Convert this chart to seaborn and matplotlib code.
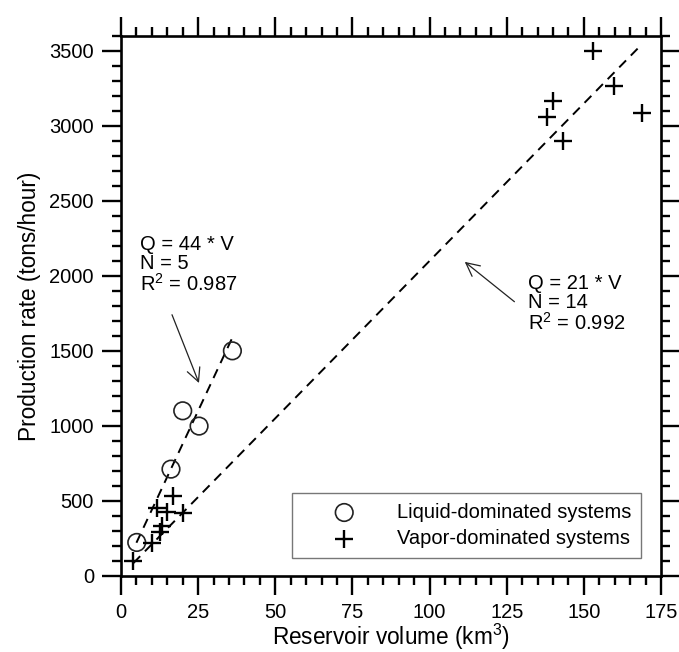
import numpy as np
import pandas as pd
import seaborn as sns
import matplotlib.pyplot as plt

# liquid-dominated systems (circles)
liquid_volume = [5.1, 16.2, 20.0, 25.3, 36.1]
liquid_rate = [222, 711, 1100, 998, 1500]

# vapor-dominated systems (crosses)
vapor_volume = [4.0, 9.9, 12.5, 13.4, 11.6, 14.8, 17.0, 20.0,
                138.1, 140.1, 143.1, 153.1, 159.8, 168.9]
vapor_rate = [95, 216, 290, 330, 449, 427, 533, 420,
              3060, 3165, 2900, 3498, 3265, 3087]

# fitted lines Q = slope * V
liquid_slope = 44
vapor_slope = 21
liquid_fit_range = [5.0, 36.3]
vapor_fit_range = [4.0, 168.8]

liquid_label = "Liquid-dominated systems"
vapor_label = "Vapor-dominated systems"
liquid_note = "Q = 44 * V\nN = 5\nR$^2$ = 0.987"
vapor_note = "Q = 21 * V\nN = 14\nR$^2$ = 0.992"

x_ticks = [0, 25, 50, 75, 100, 125, 150, 175]
y_ticks = [0, 500, 1000, 1500, 2000, 2500, 3000, 3500]

sns.set_style("ticks")
plt.rcParams['font.family'] = ['Liberation Sans', 'DejaVu Sans']
plt.rcParams['mathtext.fontset'] = 'custom'
plt.rcParams['mathtext.rm'] = 'Liberation Sans'
plt.rcParams['mathtext.it'] = 'Liberation Sans'
plt.rcParams['text.color'] = 'black'
plt.rcParams['axes.labelcolor'] = 'black'
plt.rcParams['axes.edgecolor'] = 'black'
FS = 14.5
LFS = 16.3

fig = plt.figure(figsize=(6.79, 6.52), dpi=100)
ax = fig.add_axes([0.1782, 0.117, 0.7953, 0.8278])

df_liquid = pd.DataFrame({"volume": liquid_volume, "rate": liquid_rate})
df_vapor = pd.DataFrame({"volume": vapor_volume, "rate": vapor_rate})

sns.scatterplot(data=df_liquid, x="volume", y="rate", marker="o", s=160,
                color="black", facecolor="none", edgecolor="#222222",
                linewidth=1.2, label=liquid_label, ax=ax, zorder=3)
sns.scatterplot(data=df_vapor, x="volume", y="rate", marker="+", s=150,
                color="black", linewidth=1.7, label=vapor_label, ax=ax, zorder=3)

# regression lines
lx = np.array(liquid_fit_range)
vx = np.array(vapor_fit_range)
sns.lineplot(x=lx, y=liquid_slope * lx, color="black", lw=1.4,
             linestyle=(0, (5, 3.5)), ax=ax, legend=False)
sns.lineplot(x=vx, y=vapor_slope * vx, color="black", lw=1.4,
             linestyle=(0, (5, 3.5)), ax=ax, legend=False)

# annotations
ax.text(6.2, 2275, liquid_note, fontsize=FS, va="top", ha="left", linespacing=1.0)
ax.text(131.9, 2010, vapor_note, fontsize=FS, va="top", ha="left", linespacing=1.0)
arrow = dict(arrowstyle="->", color="#222222", lw=0.9, mutation_scale=24)
ax.annotate("", xy=(25.6, 1268), xytext=(16.2, 1758), arrowprops=arrow)
ax.annotate("", xy=(110.7, 2105), xytext=(128.2, 1816), arrowprops=arrow)

ax.set_xlim(0, 175)
ax.set_ylim(0, 3600)
ax.set_xticks(x_ticks)
ax.set_yticks(y_ticks)
ax.set_xticks(np.arange(0, 176, 5), minor=True)
ax.set_yticks(np.arange(0, 3601, 100), minor=True)
ax.tick_params(which="both", direction="out", top=True, right=True,
               width=1.7, colors="black", labelsize=FS, pad=6)
ax.tick_params(which="major", length=13.5)
ax.tick_params(which="minor", length=6.5)
for sp in ax.spines.values():
    sp.set_linewidth(1.9)
    sp.set_visible(True)

ax.set_xlabel("Reservoir volume (km$^3$)", fontsize=LFS, labelpad=0)
ax.set_ylabel("Production rate (tons/hour)", fontsize=LFS, labelpad=6)

leg = ax.legend(loc="lower right", bbox_to_anchor=(0.963, 0.033),
                borderaxespad=0, fontsize=FS, handlelength=4.2,
                handletextpad=0.5, labelspacing=0.35, fancybox=False,
                frameon=True, borderpad=0.5)
leg.get_frame().set_edgecolor("#555555")
leg.get_frame().set_linewidth(1.0)
for t in leg.get_texts():
    t.set_color("black")

fig.savefig("out.png", dpi=100)
